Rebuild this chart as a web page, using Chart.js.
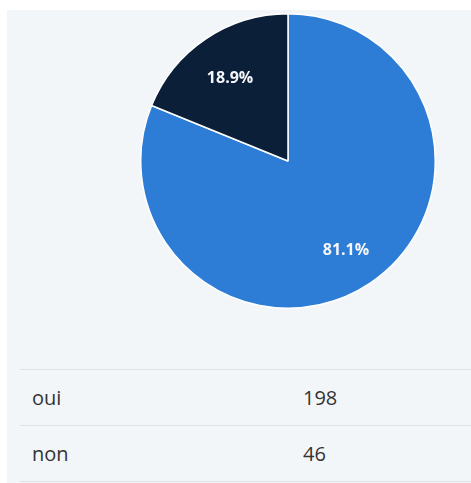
<!DOCTYPE html>
<html>
<head>
<meta charset="utf-8">
<script src="https://cdn.jsdelivr.net/npm/chart.js@4"></script>
<style>
  html, body { margin: 0; padding: 0; background: #fff; }
  body { width: 471px; height: 483px; position: relative; overflow: hidden; font-family: "Open Sans", sans-serif; }
  #panel { position: absolute; left: 7px; top: 10px; right: 0; bottom: 0; background: #f3f6f9; }
  #pieBox { position: absolute; left: 140px; top: 13px; width: 296px; height: 296px; }
  #tbl { position: absolute; left: 20px; top: 369px; width: 451px; border-collapse: collapse; }
  #tbl td { height: 55px; border-top: 1px solid #dde2e8; font-size: 20px; color: #333; padding: 0; vertical-align: middle; }
  #tbl tr:last-child td { border-bottom: 1px solid #dde2e8; }
  #tbl td.name { padding-left: 12px; width: 271px; }
</style>
</head>
<body>
<div id="panel"></div>
<div id="pieBox"><canvas id="pie"></canvas></div>
<table id="tbl"></table>

<script>
const answers = ["oui", "non"];
const counts = [198, 46];
const colors = ["#2d7dd7", "#0c1f38"];

// percentage labels placed along each slice's middle angle
const sliceLabels = {
  id: "sliceLabels",
  afterDatasetsDraw(chart) {
    const ctx = chart.ctx;
    const meta = chart.getDatasetMeta(0);
    const total = counts.reduce((a, b) => a + b, 0);
    ctx.save();
    ctx.font = "bold 16px 'Open Sans'";
    ctx.fillStyle = "#f4f6f9";
    ctx.textAlign = "center";
    ctx.textBaseline = "middle";
    meta.data.forEach((arc, i) => {
      const p = arc.getProps(["x", "y", "startAngle", "endAngle", "outerRadius"], true);
      const mid = (p.startAngle + p.endAngle) / 2;
      const r = p.outerRadius * 0.705;
      const pct = (counts[i] / total * 100).toFixed(1) + "%";
      ctx.fillText(pct, p.x + Math.cos(mid) * r, p.y + Math.sin(mid) * r + 3.5);
    });
    ctx.restore();
  },
};

new Chart(document.getElementById("pie"), {
  type: "pie",
  data: {
    labels: answers,
    datasets: [{
      data: counts,
      backgroundColor: colors,
      borderColor: "#ffffff",
      borderWidth: 1.5,
    }],
  },
  options: {
    responsive: true,
    maintainAspectRatio: false,
    animation: false,
    layout: { padding: 0 },
    plugins: {
      legend: { display: false },
      tooltip: { enabled: false },
    },
  },
  plugins: [sliceLabels],
});

// table of raw counts under the pie
const tbl = document.getElementById("tbl");
answers.forEach((a, i) => {
  const tr = document.createElement("tr");
  tr.innerHTML = `<td class="name">${a}</td><td>${counts[i]}</td>`;
  tbl.appendChild(tr);
});
</script>
</body>
</html>
